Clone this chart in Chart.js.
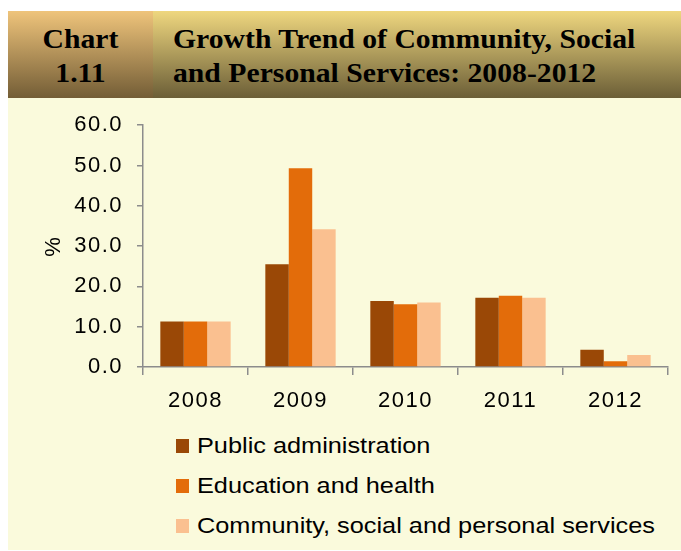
<!DOCTYPE html>
<html>
<head>
<meta charset="utf-8">
<script src="https://cdn.jsdelivr.net/npm/chart.js@4/dist/chart.umd.min.js"></script>
<style>
  html, body { margin: 0; padding: 0; background: #fff; }
  body { width: 681px; height: 551px; position: relative; overflow: hidden; }
  .header { position: absolute; left: 8px; top: 11px; width: 673px; height: 87px; }
  .num { position: absolute; left: 0; top: 0; width: 145px; height: 87px;
         background: linear-gradient(#efc47b, #735d36); }
  .ttl { position: absolute; left: 145px; top: 0; width: 528px; height: 87px;
         background: linear-gradient(#efd77f, #6b5e37); }
  .header div.t { position: absolute; font-family: "Liberation Serif", serif; font-weight: bold;
         font-size: 27px; color: #000; white-space: nowrap; line-height: 34px; }
  .panel { position: absolute; left: 8px; top: 98px; width: 673px; height: 452px; background: #fafadc; }
  #chart { position: absolute; left: 8px; top: 98px; }
  .legend { position: absolute; left: 176px; top: 434px; font-family: "Liberation Sans", Arial, sans-serif;
            font-size: 22px; color: #000; }
  .legend .item { height: 40px; line-height: 24px; position: relative; white-space: nowrap; }
  .legend .sw { position: absolute; left: 0; top: 5px; width: 13px; height: 14px; }
  .legend .lb { position: absolute; left: 21px; top: 0; transform: scaleX(1.15); transform-origin: left center; }
</style>
</head>
<body>
<div class="header">
  <div class="num">
    <div class="t" style="left:0;width:145px;text-align:center;top:11px;transform:scaleX(1.1)">Chart<br>1.11</div>
  </div>
  <div class="ttl">
    <div class="t" style="left:20px;top:11px;transform:scaleX(1.1);transform-origin:left center">Growth Trend of Community, Social<br>and Personal Services: 2008-2012</div>
  </div>
</div>
<div class="panel"></div>
<canvas id="chart" width="673" height="322"></canvas>
<div class="legend" id="legend"></div>
<script>
const years = ['2008', '2009', '2010', '2011', '2012'];
const publicAdmin = [11.3, 25.5, 16.4, 17.2, 4.3];
const eduHealth = [11.3, 49.3, 15.6, 17.7, 1.4];
const communityServices = [11.3, 34.2, 16.0, 17.2, 3.0];
const seriesNames = ['Public administration', 'Education and health', 'Community, social and personal services'];
const seriesColors = ['#9a4806', '#e36c0a', '#fac090'];

const axisGrey = '#8c8c8c';
const tickFont = { family: 'Liberation Sans', size: 22 };

let chartGrowth;

// axis text in this chart is set a little wide
const wideText = {
    id: 'wideText',
    beforeDraw: (chart) => { chart.ctx.letterSpacing = '1.5px'; }
};

const initChartGrowth = () => {
    const ctx = document.getElementById('chart').getContext('2d');
    const values = [publicAdmin, eduHealth, communityServices];
    chartGrowth = new Chart(ctx, {
        type: 'bar',
        data: {
            labels: years,
            datasets: values.map((v, i) => ({
                label: seriesNames[i],
                data: v,
                backgroundColor: seriesColors[i],
                borderWidth: 0,
                categoryPercentage: 0.67,
                barPercentage: 1.0
            }))
        },
        plugins: [wideText],
        options: {
            responsive: false,
            animation: false,
            layout: { padding: { top: 27, right: 13, left: 0, bottom: 0 } },
            plugins: { legend: { display: false }, tooltip: { enabled: false } },
            scales: {
                x: {
                    afterFit: (scale) => { scale.height = 53; },
                    grid: { display: true, drawOnChartArea: false, offset: true, color: axisGrey, tickLength: 8, lineWidth: 1.5 },
                    border: { color: axisGrey, width: 1.5 },
                    ticks: { color: '#000', font: tickFont, padding: 13 }
                },
                y: {
                    min: 0,
                    max: 60,
                    afterFit: (scale) => { scale.width = 135; },
                    grid: { display: true, drawOnChartArea: false, color: axisGrey, tickLength: 6, lineWidth: 1.5 },
                    border: { color: axisGrey, width: 1.5 },
                    ticks: { stepSize: 10, color: '#000', font: tickFont, padding: 14,
                             callback: (v) => Number(v).toFixed(1) },
                    title: { display: true, text: '%', color: '#000', font: tickFont, padding: { top: 33, bottom: 0 } }
                }
            }
        }
    });
};

const buildLegend = () => {
    const box = document.getElementById('legend');
    seriesNames.forEach((name, i) => {
        const item = document.createElement('div');
        item.className = 'item';
        item.innerHTML = '<span class="sw" style="background:' + seriesColors[i] + '"></span><span class="lb">' + name + '</span>';
        box.appendChild(item);
    });
};

initChartGrowth();
buildLegend();
</script>
</body>
</html>
